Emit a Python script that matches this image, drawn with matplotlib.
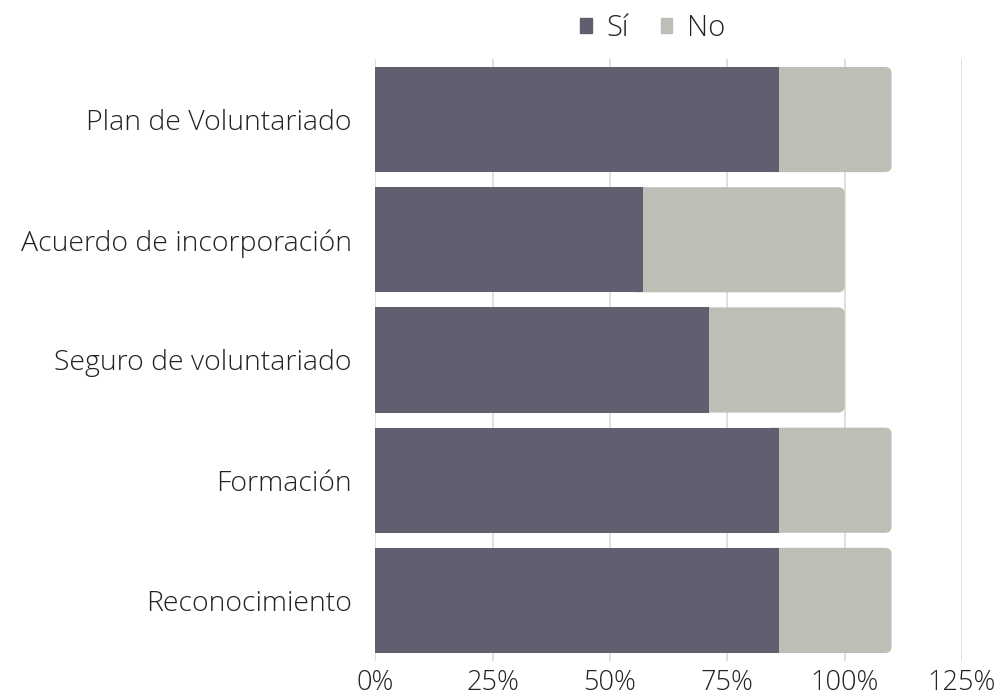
import numpy as np
import matplotlib.pyplot as plt
from matplotlib.patches import FancyBboxPatch, Patch

plt.rcParams['font.family'] = ['Open Sans', 'DejaVu Sans']

categorias = ["Plan de Voluntariado", "Acuerdo de incorporación", "Seguro de voluntariado",
              "Formación", "Reconocimiento"]
si = [86, 57, 71, 86, 86]
no = [24, 43, 29, 24, 24]
ticks = [0, 25, 50, 75, 100, 125]

c_si = "#5f5f70"
c_no = "#bdbeb6"

fig = plt.figure(figsize=(10.01, 6.99), dpi=100)
ax = fig.add_axes([0.375, 0.055, 0.586, 0.86])

y = np.arange(len(categorias))
h = 0.875

# barras "No" con esquinas redondeadas a la derecha (el lado izquierdo queda bajo "Sí")
for yi, s, n in zip(y, si, no):
    p = FancyBboxPatch((s - 3, yi - h / 2), n + 3, h,
                       boxstyle="round,pad=0,rounding_size=1.4",
                       mutation_aspect=0.039, fc=c_no, ec="none", zorder=2)
    ax.add_patch(p)
ax.barh(y, si, height=h, color=c_si, zorder=3)

ax.set_xlim(0, 125)
ax.set_ylim(len(categorias) - 0.5, -0.5)
ax.set_xticks(ticks)
ax.set_xticklabels([f"{t}%" for t in ticks])
ax.set_yticks(y)
ax.set_yticklabels(categorias)
ax.tick_params(axis="both", length=0, labelsize=20.5, colors="#222222")
ax.tick_params(axis="x", labelsize=19.5, pad=6)
ax.tick_params(axis="y", pad=17)
for lab in ax.get_xticklabels() + ax.get_yticklabels():
    lab.set_fontweight("light")
ax.grid(axis="x", color="#d9d9d9", lw=1.2, zorder=0)
for s in ax.spines.values():
    s.set_visible(False)

handles = [Patch(color=c_si, label="Sí"), Patch(color=c_no, label="No")]
leg = fig.legend(handles=handles, loc="center", bbox_to_anchor=(0.652, 0.96), ncol=2,
                 frameon=False, fontsize=21, handlelength=0.4, handleheight=0.4,
                 handletextpad=0.5, columnspacing=1.1)
for t in leg.get_texts():
    t.set_fontweight("light")
    t.set_color("#222222")

fig.savefig("out.png", dpi=100)
